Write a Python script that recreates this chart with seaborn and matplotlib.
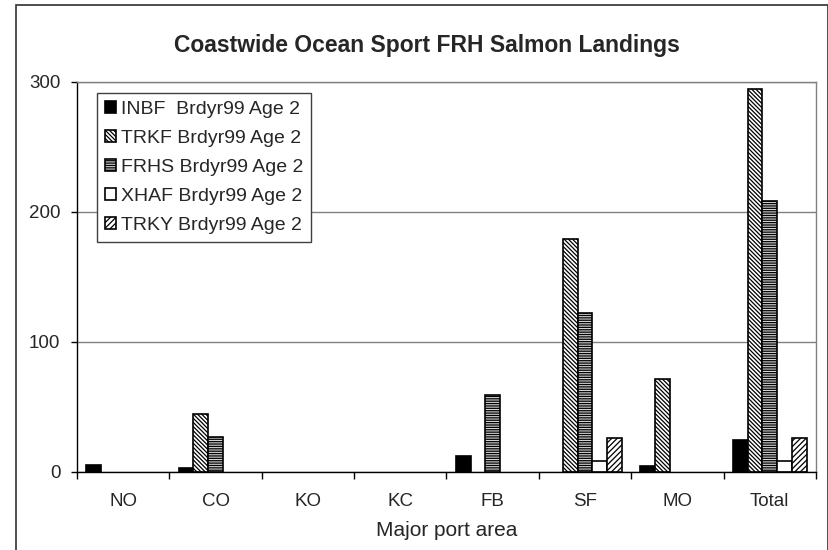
import matplotlib
matplotlib.use("Agg")
import matplotlib.pyplot as plt
import seaborn as sns
import pandas as pd
import numpy as np
from matplotlib.patches import Rectangle

# data
areas = ["NO", "CO", "KO", "KC", "FB", "SF", "MO", "Total"]
series = ["INBF  Brdyr99 Age 2", "TRKF Brdyr99 Age 2", "FRHS Brdyr99 Age 2",
          "XHAF Brdyr99 Age 2", "TRKY Brdyr99 Age 2"]
inbf = [5, 3, 0, 0, 12, 0, 4, 24]
trkf = [0, 44, 0, 0, 0, 179, 71, 294]
frhs = [0, 27, 0, 0, 59, 122, 0, 208]
xhaf = [0, 0, 0, 0, 0, 8, 0, 8]
trky = [0, 0, 0, 0, 0, 26, 0, 26]

face_colors = ["black", "white", "#d4d4d4", "white", "white"]
hatches = [None, "\\\\\\\\\\\\\\\\", "-------", None, "//////"]

rows = []
for name, vals in zip(series, [inbf, trkf, frhs, xhaf, trky]):
    for a, v in zip(areas, vals):
        # Excel draws nothing for empty cells
        rows.append({"Area": a, "Series": name, "Landings": v if v else np.nan})
df = pd.DataFrame(rows)

sns.set_style("white")
plt.rcParams["font.family"] = ["Liberation Sans", "DejaVu Sans"]
plt.rcParams["hatch.linewidth"] = 0.9

fig = plt.figure(figsize=(8.29, 5.5), dpi=100)
ax = fig.add_axes([0.0929, 0.1424, 0.8914, 0.7091])

sns.barplot(
    data=df, x="Area", y="Landings", hue="Series",
    order=areas, hue_order=series, palette=face_colors,
    width=0.8, errorbar=None, edgecolor="black", linewidth=1.2,
    saturation=1, legend=False, ax=ax,
)

for cont, h in zip(ax.containers, hatches):
    for bar in cont:
        if h:
            bar.set_hatch(h)

ax.set_ylim(0, 300)
ax.set_xlim(-0.5, len(areas) - 0.5)
ax.set_yticks([0, 100, 200, 300])
ax.yaxis.grid(True, color="#808080", linewidth=1)
ax.set_axisbelow(True)

ax.set_xticks(np.arange(-0.5, len(areas)), minor=True)
ax.tick_params(axis="x", which="major", length=0, pad=15.5, labelsize=13.5)
ax.tick_params(axis="x", which="minor", length=5, width=1, color="black",
               direction="out", bottom=True)
ax.tick_params(axis="y", length=4, width=1, color="black", direction="out",
               left=True, pad=8, labelsize=13.5)

for s in ["left", "bottom"]:
    ax.spines[s].set_color("black")
    ax.spines[s].set_linewidth(1)
for s in ["top", "right"]:
    ax.spines[s].set_color("#808080")
    ax.spines[s].set_linewidth(1)

ax.set_xlabel("Major port area", fontsize=15, labelpad=7.5)
ax.set_ylabel("")

leg = ax.legend(ax.containers, series, loc="upper left",
                bbox_to_anchor=(0.027, 0.971), fontsize=14, frameon=True,
                fancybox=False, framealpha=1, edgecolor="#404040",
                handlelength=0.6, handleheight=0.6, handletextpad=0.25,
                labelspacing=0.62, borderpad=0.4, borderaxespad=0)
leg.get_frame().set_linewidth(1)

fig.text(427 / 829, 1 - 52 / 550, "Coastwide Ocean Sport FRH Salmon Landings",
         ha="center", va="baseline", fontsize=16.5, fontweight="bold")

fig.patches.append(Rectangle((16 / 829, -0.01), 1 - 16 / 829 - 0.0015, 1 - 5 / 550 + 0.01,
                             transform=fig.transFigure, fill=False,
                             edgecolor="#303030", linewidth=1.2))

fig.savefig("out.png", dpi=100)
